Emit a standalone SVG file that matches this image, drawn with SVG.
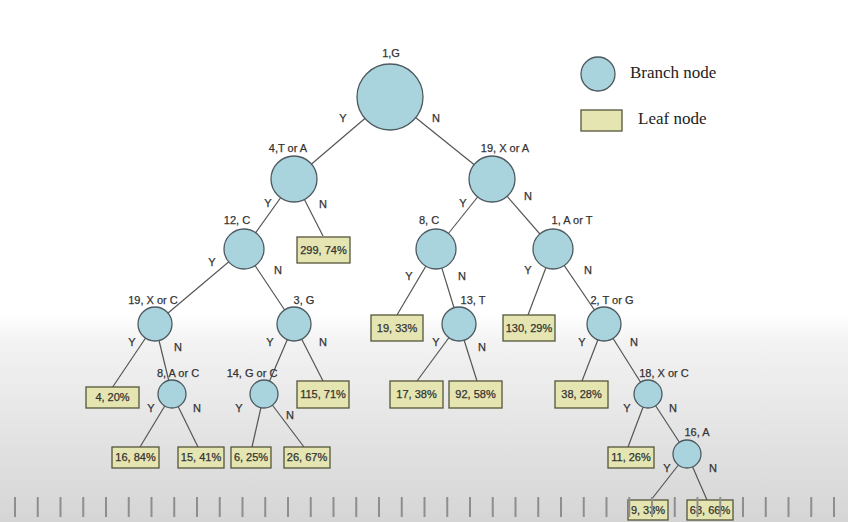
<svg xmlns="http://www.w3.org/2000/svg" width="848" height="522" viewBox="0 0 848 522">
<defs>
<linearGradient id="bg" x1="0" y1="0" x2="0" y2="522" gradientUnits="userSpaceOnUse">
<stop offset="0" stop-color="#ffffff"/>
<stop offset="0.6" stop-color="#ffffff"/>
<stop offset="0.66" stop-color="#f2f2f2"/>
<stop offset="1" stop-color="#d5d5d5"/>
</linearGradient>
<style>
.br{fill:#a9d4dd;stroke:#4d5a60;stroke-width:1.3}
.lf{fill:#e5e5b1;stroke:#55553a;stroke-width:1.3}
.e{stroke:#555;stroke-width:1.2;fill:none}
.t{font-family:"Liberation Sans",Arial,sans-serif;font-size:11px;fill:#333;stroke:#333;stroke-width:0.25;text-anchor:middle}
.lg{font-family:"Liberation Serif","Times New Roman",serif;font-size:17px;fill:#222}
.tk{stroke:#8e8e8e;stroke-width:2}
</style>
</defs>
<rect width="848" height="522" fill="url(#bg)"/>

<g id="legend">
<circle class="br" cx="598" cy="74" r="17"/>
<text class="lg" x="630" y="78">Branch node</text>
<rect class="lf" x="581" y="110" width="41" height="21"/>
<text class="lg" x="638" y="124">Leaf node</text>
</g>

<g id="connectors">
<line class="e" x1="390" y1="97" x2="294" y2="179"/>
<line class="e" x1="390" y1="97" x2="492" y2="179"/>
<line class="e" x1="294" y1="179" x2="244" y2="249"/>
<line class="e" x1="294" y1="179" x2="323" y2="236"/>
<line class="e" x1="492" y1="179" x2="436" y2="249"/>
<line class="e" x1="492" y1="179" x2="553" y2="249"/>
<line class="e" x1="244" y1="249" x2="155" y2="324"/>
<line class="e" x1="244" y1="249" x2="294" y2="324"/>
<line class="e" x1="436" y1="249" x2="397" y2="315"/>
<line class="e" x1="436" y1="249" x2="459" y2="324"/>
<line class="e" x1="553" y1="249" x2="528" y2="315"/>
<line class="e" x1="553" y1="249" x2="604" y2="324"/>
<line class="e" x1="155" y1="324" x2="112" y2="388"/>
<line class="e" x1="155" y1="324" x2="172" y2="394"/>
<line class="e" x1="294" y1="324" x2="264" y2="394"/>
<line class="e" x1="294" y1="324" x2="323" y2="381"/>
<line class="e" x1="459" y1="324" x2="417" y2="381"/>
<line class="e" x1="459" y1="324" x2="477" y2="381"/>
<line class="e" x1="604" y1="324" x2="582" y2="381"/>
<line class="e" x1="604" y1="324" x2="648" y2="394"/>
<line class="e" x1="172" y1="394" x2="140" y2="447"/>
<line class="e" x1="172" y1="394" x2="198" y2="447"/>
<line class="e" x1="264" y1="394" x2="252" y2="447"/>
<line class="e" x1="264" y1="394" x2="304" y2="447"/>
<line class="e" x1="648" y1="394" x2="628" y2="447"/>
<line class="e" x1="648" y1="394" x2="687" y2="454"/>
<line class="e" x1="687" y1="454" x2="651" y2="500"/>
<line class="e" x1="687" y1="454" x2="707" y2="500"/>
</g>

<g id="edge-labels" class="t">
<text x="343" y="122">Y</text><text x="436" y="122">N</text>
<text x="268" y="207">Y</text><text x="323" y="208">N</text>
<text x="463" y="207">Y</text><text x="528" y="200">N</text>
<text x="212" y="266">Y</text><text x="278" y="274">N</text>
<text x="409" y="280">Y</text><text x="462" y="280">N</text>
<text x="528" y="274">Y</text><text x="588" y="274">N</text>
<text x="132" y="346">Y</text><text x="178" y="351">N</text>
<text x="270" y="346">Y</text><text x="323" y="346">N</text>
<text x="436" y="346">Y</text><text x="482" y="351">N</text>
<text x="582" y="346">Y</text><text x="634" y="346">N</text>
<text x="151" y="412">Y</text><text x="197" y="412">N</text>
<text x="239" y="412">Y</text><text x="290" y="419">N</text>
<text x="627" y="412">Y</text><text x="673" y="412">N</text>
<text x="667" y="472">Y</text><text x="713" y="472">N</text>
</g>

<g id="n1G"><circle class="br" cx="390" cy="97" r="33"/><text class="t" x="391" y="57">1,G</text></g>
<g id="n4TA"><circle class="br" cx="294" cy="179" r="23"/><text class="t" x="288" y="152">4,T or A</text></g>
<g id="n19XA"><circle class="br" cx="492" cy="179" r="23"/><text class="t" x="505" y="152">19, X or A</text></g>
<g id="n12C"><circle class="br" cx="244" cy="249" r="20"/><text class="t" x="237" y="224">12, C</text></g>
<g id="l299"><rect class="lf" x="297" y="237" width="53" height="26"/><text class="t" x="323.5" y="254">299, 74%</text></g>
<g id="n8C"><circle class="br" cx="436" cy="249" r="20"/><text class="t" x="429" y="224">8, C</text></g>
<g id="n1AT"><circle class="br" cx="553" cy="249" r="20"/><text class="t" x="572" y="224">1, A or T</text></g>
<g id="n19XC"><circle class="br" cx="155" cy="324" r="17"/><text class="t" x="153" y="304">19, X or C</text></g>
<g id="n3G"><circle class="br" cx="294" cy="324" r="17"/><text class="t" x="304" y="304">3, G</text></g>
<g id="l19"><rect class="lf" x="371" y="315" width="52" height="26"/><text class="t" x="397" y="332">19, 33%</text></g>
<g id="n13T"><circle class="br" cx="459" cy="324" r="17"/><text class="t" x="473" y="304">13, T</text></g>
<g id="l130"><rect class="lf" x="503" y="315" width="52" height="26"/><text class="t" x="529" y="332">130, 29%</text></g>
<g id="n2TG"><circle class="br" cx="604" cy="324" r="17"/><text class="t" x="612" y="304">2, T or G</text></g>
<g id="l4"><rect class="lf" x="86" y="387" width="53" height="21"/><text class="t" x="112.5" y="401">4, 20%</text></g>
<g id="n8AC"><circle class="br" cx="172" cy="394" r="14"/><text class="t" x="178" y="377">8, A or C</text></g>
<g id="n14GC"><circle class="br" cx="264" cy="394" r="14"/><text class="t" x="252" y="377">14, G or C</text></g>
<g id="l115"><rect class="lf" x="297" y="381" width="52" height="27"/><text class="t" x="323" y="398">115, 71%</text></g>
<g id="l17"><rect class="lf" x="390" y="381" width="53" height="27"/><text class="t" x="416.5" y="398">17, 38%</text></g>
<g id="l92"><rect class="lf" x="449" y="381" width="53" height="27"/><text class="t" x="475.5" y="398">92, 58%</text></g>
<g id="l38"><rect class="lf" x="555" y="381" width="53" height="27"/><text class="t" x="581.5" y="398">38, 28%</text></g>
<g id="n18XC"><circle class="br" cx="648" cy="394" r="14"/><text class="t" x="664" y="377">18, X or C</text></g>
<g id="l16"><rect class="lf" x="112" y="447" width="47" height="21"/><text class="t" x="135.5" y="461">16, 84%</text></g>
<g id="l15"><rect class="lf" x="178" y="447" width="46" height="21"/><text class="t" x="201" y="461">15, 41%</text></g>
<g id="l6"><rect class="lf" x="231" y="447" width="40" height="21"/><text class="t" x="251" y="461">6, 25%</text></g>
<g id="l26"><rect class="lf" x="284" y="447" width="46" height="21"/><text class="t" x="307" y="461">26, 67%</text></g>
<g id="l11"><rect class="lf" x="608" y="447" width="46" height="21"/><text class="t" x="631" y="461">11, 26%</text></g>
<g id="n16A"><circle class="br" cx="687" cy="454" r="14"/><text class="t" x="697" y="436">16, A</text></g>
<g id="l9"><rect class="lf" x="628" y="500" width="40" height="20"/><text class="t" x="648" y="514">9, 33%</text></g>
<g id="l63"><rect class="lf" x="687" y="500" width="46" height="20"/><text class="t" x="710" y="514">63, 66%</text></g>

<g id="ticks">
<line class="tk" x1="15" y1="497" x2="15" y2="517"/>
<line class="tk" x1="37.75" y1="497" x2="37.75" y2="517"/>
<line class="tk" x1="60.5" y1="497" x2="60.5" y2="517"/>
<line class="tk" x1="83.25" y1="497" x2="83.25" y2="517"/>
<line class="tk" x1="106" y1="497" x2="106" y2="517"/>
<line class="tk" x1="128.75" y1="497" x2="128.75" y2="517"/>
<line class="tk" x1="151.5" y1="497" x2="151.5" y2="517"/>
<line class="tk" x1="174.25" y1="497" x2="174.25" y2="517"/>
<line class="tk" x1="197" y1="497" x2="197" y2="517"/>
<line class="tk" x1="219.75" y1="497" x2="219.75" y2="517"/>
<line class="tk" x1="242.5" y1="497" x2="242.5" y2="517"/>
<line class="tk" x1="265.25" y1="497" x2="265.25" y2="517"/>
<line class="tk" x1="288" y1="497" x2="288" y2="517"/>
<line class="tk" x1="310.75" y1="497" x2="310.75" y2="517"/>
<line class="tk" x1="333.5" y1="497" x2="333.5" y2="517"/>
<line class="tk" x1="356.25" y1="497" x2="356.25" y2="517"/>
<line class="tk" x1="379" y1="497" x2="379" y2="517"/>
<line class="tk" x1="401.75" y1="497" x2="401.75" y2="517"/>
<line class="tk" x1="424.5" y1="497" x2="424.5" y2="517"/>
<line class="tk" x1="447.25" y1="497" x2="447.25" y2="517"/>
<line class="tk" x1="470" y1="497" x2="470" y2="517"/>
<line class="tk" x1="492.75" y1="497" x2="492.75" y2="517"/>
<line class="tk" x1="515.5" y1="497" x2="515.5" y2="517"/>
<line class="tk" x1="538.25" y1="497" x2="538.25" y2="517"/>
<line class="tk" x1="561" y1="497" x2="561" y2="517"/>
<line class="tk" x1="583.75" y1="497" x2="583.75" y2="517"/>
<line class="tk" x1="606.5" y1="497" x2="606.5" y2="517"/>
<line class="tk" x1="629.25" y1="497" x2="629.25" y2="517"/>
<line class="tk" x1="652" y1="497" x2="652" y2="517"/>
<line class="tk" x1="674.75" y1="497" x2="674.75" y2="517"/>
<line class="tk" x1="697.5" y1="497" x2="697.5" y2="517"/>
<line class="tk" x1="720.25" y1="497" x2="720.25" y2="517"/>
<line class="tk" x1="743" y1="497" x2="743" y2="517"/>
<line class="tk" x1="765.75" y1="497" x2="765.75" y2="517"/>
<line class="tk" x1="788.5" y1="497" x2="788.5" y2="517"/>
<line class="tk" x1="811.25" y1="497" x2="811.25" y2="517"/>
<line class="tk" x1="834" y1="497" x2="834" y2="517"/>
</g>
</svg>
